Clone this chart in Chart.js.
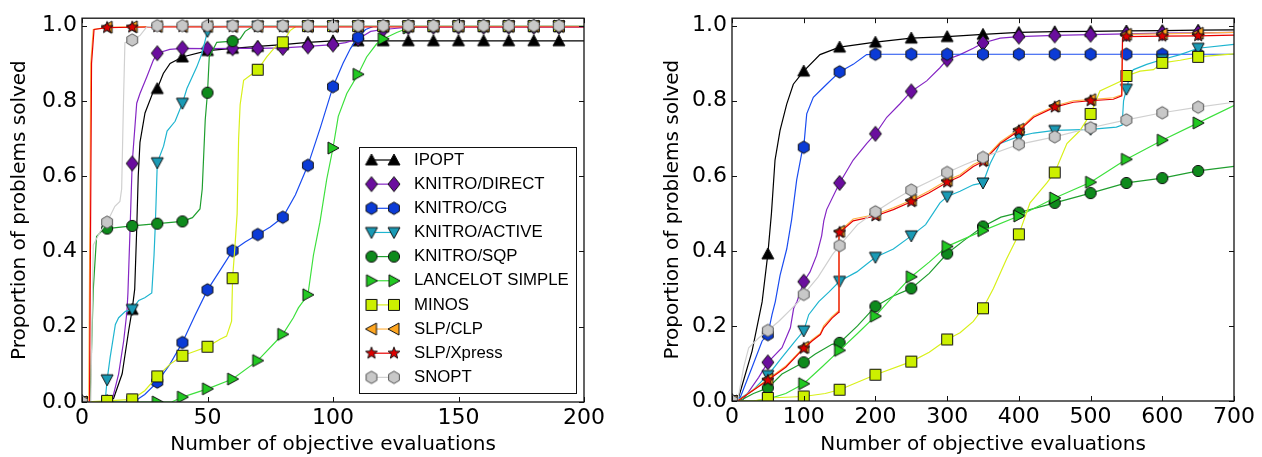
<!DOCTYPE html>
<html>
<head>
<meta charset="utf-8">
<title>Performance profiles</title>
<script src="https://cdn.jsdelivr.net/npm/chart.js@4.4.1/dist/chart.umd.min.js"></script>
<style>
    html, body { margin: 0; padding: 0; background: #fff; }
    #wrap { position: relative; width: 1262px; height: 457px; overflow: hidden; }
    #chartLeft { position: absolute; left: 0; top: 0; }
    #chartRight { position: absolute; left: 640px; top: 0; }
</style>
</head>
<body>
<div id="wrap">
    <canvas id="chartLeft" width="612" height="457"></canvas>
    <canvas id="chartRight" width="622" height="457"></canvas>
</div>
<script>
// Solver names (legend order)
const solverNames = ['IPOPT', 'KNITRO/DIRECT', 'KNITRO/CG', 'KNITRO/ACTIVE', 'KNITRO/SQP',
    'LANCELOT SIMPLE', 'MINOS', 'SLP/CLP', 'SLP/Xpress', 'SNOPT'];

// Tick labels
const yTicks = [0, 0.2, 0.4, 0.6, 0.8, 1.0];
const xTicksLeft = [0, 50, 100, 150, 200];
const xTicksRight = [0, 100, 200, 300, 400, 500, 600, 700];

// Left panel: [evaluations, proportion solved]
const ipoptLeft = [[0,0],[10,0],[12.6,0.01],[16,0.075],[18.6,0.19],[20,0.246],[21,0.3],[21.8,0.46],[22.4,0.6],[23.1,0.69],[25.1,0.768],[28.4,0.825],[30,0.833],[32.4,0.873],[35.1,0.9],[40,0.917],[50,0.934],[60,0.94],[70,0.945],[80,0.95],[90,0.956],[100,0.96],[110,0.96],[120,0.96],[130,0.96],[140,0.96],[150,0.96],[160,0.96],[170,0.96],[180,0.96],[190,0.96],[200,0.96]];
const directLeft = [[0,0],[10,0],[12,0.005],[14.6,0.075],[16.6,0.162],[17.9,0.24],[18.3,0.29],[19.1,0.45],[20,0.634],[20.4,0.671],[21.8,0.794],[23.1,0.82],[25.8,0.864],[28.4,0.908],[30,0.927],[35,0.937],[40,0.94],[50,0.939],[60,0.94],[70,0.94],[80,0.941],[90,0.945],[100,0.95],[105,0.955],[110,0.965],[115,0.985],[120,0.99],[130,0.996],[140,0.997],[150,0.997],[160,0.997],[170,0.997],[180,0.997],[190,0.997],[200,0.997]];
const cgLeft = [[0,0],[10,0],[20,0],[21,0.002],[25,0.02],[30,0.053],[35,0.1],[40,0.158],[45,0.23],[50,0.298],[55,0.35],[60,0.402],[65,0.425],[70,0.445],[75,0.465],[80,0.491],[85,0.55],[90,0.629],[95,0.73],[100,0.838],[104,0.9],[107,0.94],[110,0.969],[113,0.99],[116,0.998],[120,0.999],[130,0.999],[140,0.999],[150,0.999],[160,0.999],[170,0.999],[180,0.999],[190,0.999],[200,0.999]];
const activeLeft = [[0,0],[9.2,0],[10,0.059],[11.2,0.118],[13.3,0.206],[14.6,0.224],[17.3,0.241],[20,0.246],[22.6,0.27],[25,0.277],[27.8,0.29],[28.7,0.39],[29.2,0.47],[29.5,0.53],[30,0.636],[32.5,0.68],[33.9,0.72],[37.1,0.746],[40,0.794],[41.8,0.833],[45.7,0.89],[47.7,0.925],[50,0.985],[52.7,0.997],[60,0.999],[70,0.999],[80,0.999],[90,0.999],[100,0.999],[110,0.999],[120,0.999],[130,0.999],[140,0.999],[150,0.999],[160,0.999],[170,0.999],[180,0.999],[190,0.999],[200,0.999]];
const sqpLeft = [[0,0],[3.2,0],[4.5,0.3],[5.8,0.44],[8,0.455],[10,0.461],[20,0.468],[30,0.474],[40,0.48],[44,0.49],[47,0.513],[47.9,0.566],[49.1,0.75],[50,0.822],[50.7,0.917],[53.7,0.956],[60,0.959],[63,0.965],[65,0.985],[68,0.998],[70,0.999],[80,0.999],[90,0.999],[100,0.999],[110,0.999],[120,0.999],[130,0.999],[140,0.999],[150,0.999],[160,0.999],[170,0.999],[180,0.999],[190,0.999],[200,0.999]];
const lancelotLeft = [[0,0],[10,0],[20,0],[30,0],[35.7,0],[40,0.013],[50,0.035],[60,0.061],[70,0.11],[80,0.18],[84.2,0.224],[86.2,0.25],[90,0.285],[92.2,0.39],[94.8,0.478],[97.5,0.592],[100,0.675],[102.1,0.759],[105.5,0.82],[110,0.871],[113.4,0.917],[117.4,0.952],[120,0.965],[125.4,0.982],[130,0.994],[135,0.999],[140,0.999],[150,0.999],[160,0.999],[170,0.999],[180,0.999],[190,0.999],[200,0.999]];
const minosLeft = [[0,0],[10,0.003],[20,0.007],[25,0.03],[30,0.068],[35,0.1],[40,0.123],[45,0.135],[50,0.147],[55,0.167],[57.6,0.175],[59.6,0.215],[60,0.329],[61,0.42],[61.8,0.5],[62.4,0.7],[63,0.79],[64.4,0.855],[70,0.883],[73.6,0.917],[76.9,0.943],[80,0.956],[82.9,0.987],[85.5,0.999],[90,0.999],[100,0.999],[110,0.999],[120,0.999],[130,0.999],[140,0.999],[150,0.999],[160,0.999],[170,0.999],[180,0.999],[190,0.999],[200,0.999]];
const clpLeft = [[0,0],[2.7,0],[3.5,0.9],[4.5,0.99],[10,0.996],[20,0.997],[30,0.998],[40,0.998],[50,0.998],[60,0.998],[70,0.998],[80,0.998],[90,0.998],[100,0.998],[110,0.998],[120,0.998],[130,0.998],[140,0.998],[150,0.998],[160,0.998],[170,0.998],[180,0.998],[190,0.998],[200,0.998]];
const xpressLeft = [[0,0],[3,0],[3.8,0.9],[4.8,0.99],[10,0.995],[20,0.996],[30,0.997],[40,0.997],[50,0.997],[60,0.997],[70,0.997],[80,0.997],[90,0.997],[100,0.997],[110,0.997],[120,0.997],[130,0.997],[140,0.997],[150,0.997],[160,0.997],[170,0.997],[180,0.997],[190,0.997],[200,0.997]];
const snoptLeft = [[0,0],[3.5,0],[4.5,0.417],[7.2,0.452],[10,0.478],[13.1,0.52],[15.1,0.533],[15.8,0.566],[16.5,0.79],[17.1,0.955],[20,0.962],[23.1,0.974],[25.8,0.997],[30,1],[40,1],[50,1],[60,1],[70,1],[80,1],[90,1],[100,1],[110,1],[120,1],[130,1],[140,1],[150,1],[160,1],[170,1],[180,1],[190,1],[200,1]];

// Right panel: [evaluations, proportion solved]
const ipoptRight = [[0,0],[9.3,0.01],[28,0.133],[42,0.264],[50,0.392],[55,0.5],[60,0.642],[67,0.721],[76.3,0.791],[85.5,0.844],[100,0.879],[122.7,0.923],[150,0.943],[200,0.956],[250,0.967],[300,0.971],[350,0.977],[400,0.982],[450,0.984],[500,0.985],[550,0.986],[600,0.987],[650,0.988],[700,0.989]];
const directRight = [[0,0],[15,0.002],[37.2,0.063],[50,0.103],[69.7,0.142],[81.4,0.195],[86,0.247],[90.7,0.265],[100,0.318],[108.8,0.344],[118,0.388],[125,0.44],[128,0.48],[132,0.51],[150,0.581],[169,0.642],[187.7,0.686],[200,0.712],[215.8,0.756],[234.3,0.792],[250,0.825],[271.5,0.853],[290,0.888],[300,0.91],[318,0.923],[336.5,0.94],[350,0.954],[374,0.967],[400,0.971],[450,0.974],[500,0.976],[550,0.978],[600,0.98],[650,0.981],[700,0.982]];
const cgRight = [[0,0],[11.6,0.01],[28,0.09],[42,0.16],[50,0.177],[55.8,0.23],[60.4,0.265],[67,0.335],[76.3,0.405],[83.2,0.484],[90.2,0.589],[97.2,0.66],[100,0.676],[104.2,0.765],[113.4,0.809],[132,0.844],[150,0.877],[169,0.897],[187.7,0.923],[200,0.924],[250,0.924],[300,0.924],[350,0.924],[400,0.924],[450,0.924],[500,0.924],[550,0.924],[600,0.924],[650,0.924],[700,0.924]];
const activeRight = [[0,0],[10,0.005],[30,0.03],[46.5,0.063],[50,0.068],[69.7,0.116],[88.3,0.16],[100,0.187],[107,0.23],[121,0.265],[135,0.29],[150,0.319],[174,0.344],[200,0.383],[225,0.405],[250,0.44],[270,0.47],[290,0.528],[300,0.545],[318,0.559],[336.5,0.576],[350,0.581],[360,0.633],[374,0.686],[400,0.705],[420.5,0.714],[450,0.721],[500,0.724],[536,0.73],[544,0.735],[546,0.8],[550,0.831],[556,0.875],[560,0.883],[578.3,0.897],[600,0.91],[625,0.923],[650,0.94],[700,0.95]];
const sqpRight = [[0,0],[15,0.005],[30,0.02],[50,0.035],[69.7,0.072],[100,0.103],[116.2,0.125],[139.5,0.151],[150,0.155],[175,0.2],[200,0.252],[225,0.28],[250,0.3],[275,0.34],[300,0.393],[325,0.43],[350,0.465],[375,0.49],[400,0.502],[450,0.528],[500,0.554],[550,0.581],[600,0.594],[650,0.613],[700,0.625]];
const lancelotRight = [[0,0],[30,0],[50,0.005],[75,0.02],[100,0.046],[125,0.09],[150,0.135],[175,0.18],[200,0.226],[225,0.28],[250,0.331],[275,0.37],[300,0.412],[350,0.454],[400,0.493],[450,0.541],[500,0.583],[550,0.644],[600,0.695],[650,0.741],[700,0.787]];
const minosRight = [[0,0],[30,0],[50,0.008],[100,0.012],[130,0.02],[150,0.03],[175,0.05],[200,0.07],[250,0.105],[275,0.13],[300,0.164],[318,0.182],[336.5,0.212],[350,0.247],[364.5,0.3],[383,0.379],[400,0.444],[415.6,0.528],[439,0.581],[450,0.609],[467,0.686],[485,0.72],[500,0.765],[513,0.826],[543.5,0.853],[550,0.866],[569,0.879],[587.7,0.883],[600,0.901],[625,0.908],[650,0.917],[700,0.925]];
const clpRight = [[0,0],[10,0.003],[50,0.058],[75,0.093],[100,0.143],[111.6,0.163],[123.2,0.18],[127.9,0.2],[139.5,0.225],[148.5,0.24],[149.2,0.445],[150,0.452],[169,0.485],[200,0.497],[225,0.515],[250,0.535],[275,0.56],[300,0.588],[318,0.603],[336.5,0.63],[350,0.642],[374,0.69],[400,0.724],[420.5,0.76],[450,0.786],[476,0.8],[500,0.803],[531.8,0.808],[543.5,0.816],[544.8,0.975],[550,0.977],[600,0.978],[650,0.98],[700,0.982]];
const xpressRight = [[0,0],[10,0.003],[50,0.055],[75,0.09],[100,0.14],[111.6,0.16],[123.2,0.177],[127.9,0.195],[139.5,0.221],[148.5,0.236],[149.2,0.44],[150,0.449],[169,0.48],[200,0.493],[225,0.51],[250,0.531],[275,0.555],[300,0.583],[318,0.598],[336.5,0.625],[350,0.638],[374,0.686],[400,0.72],[420.5,0.756],[450,0.783],[476,0.796],[500,0.8],[531.8,0.804],[543.5,0.813],[544.5,0.968],[550,0.971],[600,0.972],[650,0.973],[700,0.975]];
const snoptRight = [[0,0],[8,0.002],[16.3,0.09],[23.3,0.142],[37.2,0.168],[50,0.188],[65,0.212],[80,0.24],[93,0.265],[100,0.284],[120,0.33],[140,0.39],[150,0.414],[175,0.47],[200,0.504],[225,0.535],[250,0.562],[275,0.585],[300,0.609],[325,0.63],[350,0.649],[400,0.684],[450,0.704],[500,0.728],[550,0.749],[600,0.768],[650,0.783],[700,0.796]];

const seriesLeft = [ipoptLeft, directLeft, cgLeft, activeLeft, sqpLeft, lancelotLeft, minosLeft, clpLeft, xpressLeft, snoptLeft];
const seriesRight = [ipoptRight, directRight, cgRight, activeRight, sqpRight, lancelotRight, minosRight, clpRight, xpressRight, snoptRight];

// Line colour, marker fill, marker shape per solver
const solverStyles = [
    { line: '#000000', fill: '#000000', shape: 'triUp' },
    { line: '#8526c4', fill: '#6a0d9e', shape: 'diamond' },
    { line: '#1a4cf0', fill: '#0b3bd6', shape: 'hexagon' },
    { line: '#1fb5d0', fill: '#1a9ab5', shape: 'triDown' },
    { line: '#1f9e2e', fill: '#0e8a1c', shape: 'circle' },
    { line: '#3de03d', fill: '#22c922', shape: 'triRight' },
    { line: '#d8f01a', fill: '#ccf000', shape: 'square' },
    { line: '#ffb347', fill: '#ffa620', shape: 'triLeft' },
    { line: '#e80000', fill: '#dd0000', shape: 'star' },
    { line: '#d0d0d0', fill: '#c8c8c8', shape: 'hexagon', edge: '#555555' }
];

// Build a small canvas with the marker glyph (used as Chart.js pointStyle)
function makeMarker(shape, fill, edge) {
    const size = 18;
    const c = document.createElement('canvas');
    c.width = size; c.height = size;
    const g = c.getContext('2d');
    g.translate(size / 2, size / 2);
    g.beginPath();
    if (shape === 'circle') {
        g.arc(0, 0, 5.6, 0, Math.PI * 2);
    } else if (shape === 'square') {
        g.rect(-5.5, -5.5, 11, 11);
    } else if (shape === 'diamond') {
        g.moveTo(0, -7.5); g.lineTo(6, 0); g.lineTo(0, 7.5); g.lineTo(-6, 0); g.closePath();
    } else if (shape === 'hexagon') {
        for (let k = 0; k < 6; k++) {
            const a = -Math.PI / 2 + k * Math.PI / 3;
            const px = 6.2 * Math.cos(a), py = 6.2 * Math.sin(a);
            if (k === 0) g.moveTo(px, py); else g.lineTo(px, py);
        }
        g.closePath();
    } else if (shape === 'star') {
        for (let k = 0; k < 10; k++) {
            const a = -Math.PI / 2 + k * Math.PI / 5;
            const r = k % 2 === 0 ? 6.2 : 2.6;
            const px = r * Math.cos(a), py = r * Math.sin(a);
            if (k === 0) g.moveTo(px, py); else g.lineTo(px, py);
        }
        g.closePath();
    } else {
        // triangles: up / down / left / right
        const turn = { triUp: 0, triRight: 90, triDown: 180, triLeft: 270 }[shape] * Math.PI / 180;
        const pts = [[0, -6], [-6, 5], [6, 5]];
        pts.forEach((p, k) => {
            const px = p[0] * Math.cos(turn) - p[1] * Math.sin(turn);
            const py = p[0] * Math.sin(turn) + p[1] * Math.cos(turn);
            if (k === 0) g.moveTo(px, py); else g.lineTo(px, py);
        });
        g.closePath();
    }
    g.fillStyle = fill;
    g.fill();
    g.lineWidth = 1;
    g.strokeStyle = edge;
    g.stroke();
    return c;
}

const markers = solverStyles.map(s => makeMarker(s.shape, s.fill, s.edge || '#111111'));

const tickFont = { family: '"DejaVu Sans", sans-serif', size: 22 };
const titleFont = { family: '"DejaVu Sans", sans-serif', size: 20 };

function buildDatasets(series, markerStep, markerLast) {
    return series.map((data, i) => ({
        label: solverNames[i],
        data: data,
        borderColor: solverStyles[i].line,
        backgroundColor: solverStyles[i].fill,
        borderWidth: 1.2,
        tension: 0,
        fill: false,
        pointStyle: markers[i],
        pointRadius: ctx => {
            const x = ctx.raw ? ctx.raw[0] : NaN;
            return (x % markerStep === 0 && x <= markerLast) ? 6 : 0;
        },
        order: series.length - 1 - i   // later solvers drawn on top, like matplotlib
    }));
}

// Frame and inward tick marks on all four sides
const framePlugin = {
    id: 'frameTicks',
    afterDatasetsDraw(chart) {
        const { ctx, chartArea: a, scales } = chart;
        const tl = 5;
        ctx.save();
        ctx.strokeStyle = '#111';
        ctx.lineWidth = 1;
        ctx.beginPath();
        scales.x.ticks.forEach(t => {
            const px = Math.round(scales.x.getPixelForValue(t.value)) + 0.5;
            ctx.moveTo(px, a.bottom); ctx.lineTo(px, a.bottom - tl);
            ctx.moveTo(px, a.top); ctx.lineTo(px, a.top + tl);
        });
        scales.y.ticks.forEach(t => {
            const py = Math.round(scales.y.getPixelForValue(t.value)) + 0.5;
            ctx.moveTo(a.left, py); ctx.lineTo(a.left + tl, py);
            ctx.moveTo(a.right, py); ctx.lineTo(a.right - tl, py);
        });
        ctx.stroke();
        ctx.lineWidth = 1.3;
        ctx.strokeRect(a.left, a.top, a.right - a.left, a.bottom - a.top);
        ctx.restore();
    }
};

// Boxed legend inside the left panel (lower right), marker at both ends of a line
const boxLegendPlugin = {
    id: 'boxLegend',
    afterDraw(chart) {
        const { ctx, chartArea: a } = chart;
        const w = 217, h = 246, rowH = 24.15;
        const left = a.right - 8 - w;
        const top = a.bottom - 9 - h;
        ctx.save();
        ctx.fillStyle = '#fff';
        ctx.fillRect(left, top, w, h);
        ctx.strokeStyle = '#111';
        ctx.lineWidth = 1;
        ctx.strokeRect(Math.round(left) + 0.5, Math.round(top) + 0.5, w, h);
        ctx.font = '16.8px "Liberation Sans", Arial, sans-serif';
        ctx.textBaseline = 'middle';
        ctx.textAlign = 'left';
        chart.data.datasets.forEach((ds, i) => {
            const cy = top + 13 + i * rowH;
            const x1 = left + 12.5, x2 = left + 35;
            ctx.strokeStyle = ds.borderColor;
            ctx.lineWidth = 1.2;
            ctx.beginPath();
            ctx.moveTo(x1, cy); ctx.lineTo(x2, cy);
            ctx.stroke();
            const m = ds.pointStyle;
            ctx.drawImage(m, x1 - m.width / 2, cy - m.height / 2);
            ctx.drawImage(m, x2 - m.width / 2, cy - m.height / 2);
            ctx.fillStyle = '#000';
            ctx.fillText(ds.label, left + 55, cy);
        });
        ctx.restore();
    }
};

function buildChart(canvasId, series, opts) {
    const ctx = document.getElementById(canvasId).getContext('2d');
    return new Chart(ctx, {
        type: 'line',
        data: { datasets: buildDatasets(series, opts.markerStep, opts.markerLast) },
        options: {
            responsive: false,
            animation: false,
            events: [],
            layout: { padding: { top: 14, right: opts.rightPad, left: 0, bottom: 0 } },
            plugins: {
                legend: { display: false },
                tooltip: { enabled: false }
            },
            scales: {
                x: {
                    type: 'linear',
                    min: 0,
                    max: opts.xMax,
                    afterBuildTicks: s => { s.ticks = opts.xTicks.map(v => ({ value: v })); },
                    afterFit: s => { s.height = opts.xHeight; },
                    grid: { display: false, drawTicks: false },
                    border: { display: false },
                    ticks: { color: '#000', font: tickFont, padding: 3, maxRotation: 0, autoSkip: false,
                        callback: v => String(v) },
                    title: { display: true, text: 'Number of objective evaluations', color: '#000',
                        font: titleFont, padding: { top: 0, bottom: 0 } }
                },
                y: {
                    type: 'linear',
                    min: 0,
                    max: 1.02,
                    afterBuildTicks: s => { s.ticks = yTicks.map(v => ({ value: v })); },
                    afterFit: s => { s.width = opts.yWidth; },
                    grid: { display: false, drawTicks: false },
                    border: { display: false },
                    ticks: { color: '#000', font: tickFont, padding: 5, callback: v => v.toFixed(1) },
                    title: { display: true, text: 'Proportion of problems solved', color: '#000',
                        font: titleFont, padding: { top: opts.yTitlePad, bottom: 0 } }
                }
            }
        },
        plugins: opts.legend ? [framePlugin, boxLegendPlugin] : [framePlugin]
    });
}

document.addEventListener('DOMContentLoaded', function() {
    buildChart('chartLeft', seriesLeft, {
        xMax: 200, xTicks: xTicksLeft, markerStep: 10, markerLast: 190,
        rightPad: 28, xHeight: 55, yWidth: 82, yTitlePad: 8, legend: true
    });
    buildChart('chartRight', seriesRight, {
        xMax: 700, xTicks: xTicksRight, markerStep: 50, markerLast: 650,
        rightPad: 28, xHeight: 56, yWidth: 92, yTitlePad: 21, legend: false
    });
});
</script>
</body>
</html>
